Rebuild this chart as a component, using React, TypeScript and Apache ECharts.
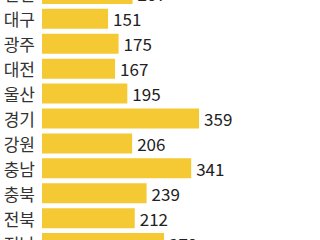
import React, { useEffect, useRef } from "react";
import * as echarts from "echarts";

const categories = ["인천", "대구", "광주", "대전", "울산", "경기", "강원", "충남", "충북", "전북", "전남"];
const values = [207, 151, 175, 167, 195, 359, 206, 341, 239, 212, 279];

export default function App() {
  const ref = useRef<HTMLDivElement>(null);
  useEffect(() => {
    document.body.style.overflow = "hidden";
    const chart = echarts.init(ref.current!, undefined, { renderer: "svg" });
    chart.setOption({
      animation: false,
      backgroundColor: "#ffffff",
      grid: { left: 42, top: 21.5, height: 274, width: 262.5, containLabel: false },
      xAxis: {
        type: "value",
        min: 0,
        max: 600,
        show: false,
      },
      yAxis: {
        type: "category",
        data: categories,
        inverse: true,
        axisLine: { show: false },
        axisTick: { show: false },
        axisLabel: {
          margin: 7,
          fontSize: 17,
          color: "#333333",
          fontFamily: "Noto Sans CJK KR",
        },
      },
      series: [
        {
          type: "bar",
          data: values,
          barWidth: 20,
          itemStyle: { color: "#F5C933" },
          label: {
            show: true,
            position: "right",
            distance: 5,
            fontSize: 17,
            color: "#222222",
            fontFamily: "Noto Sans CJK KR",
          },
        },
      ],
    });
    return () => chart.dispose();
  }, []);
  return (
    <div
      ref={ref}
      style={{ position: "absolute", left: 0, top: -40, width: 320, height: 340 }}
    />
  );
}
